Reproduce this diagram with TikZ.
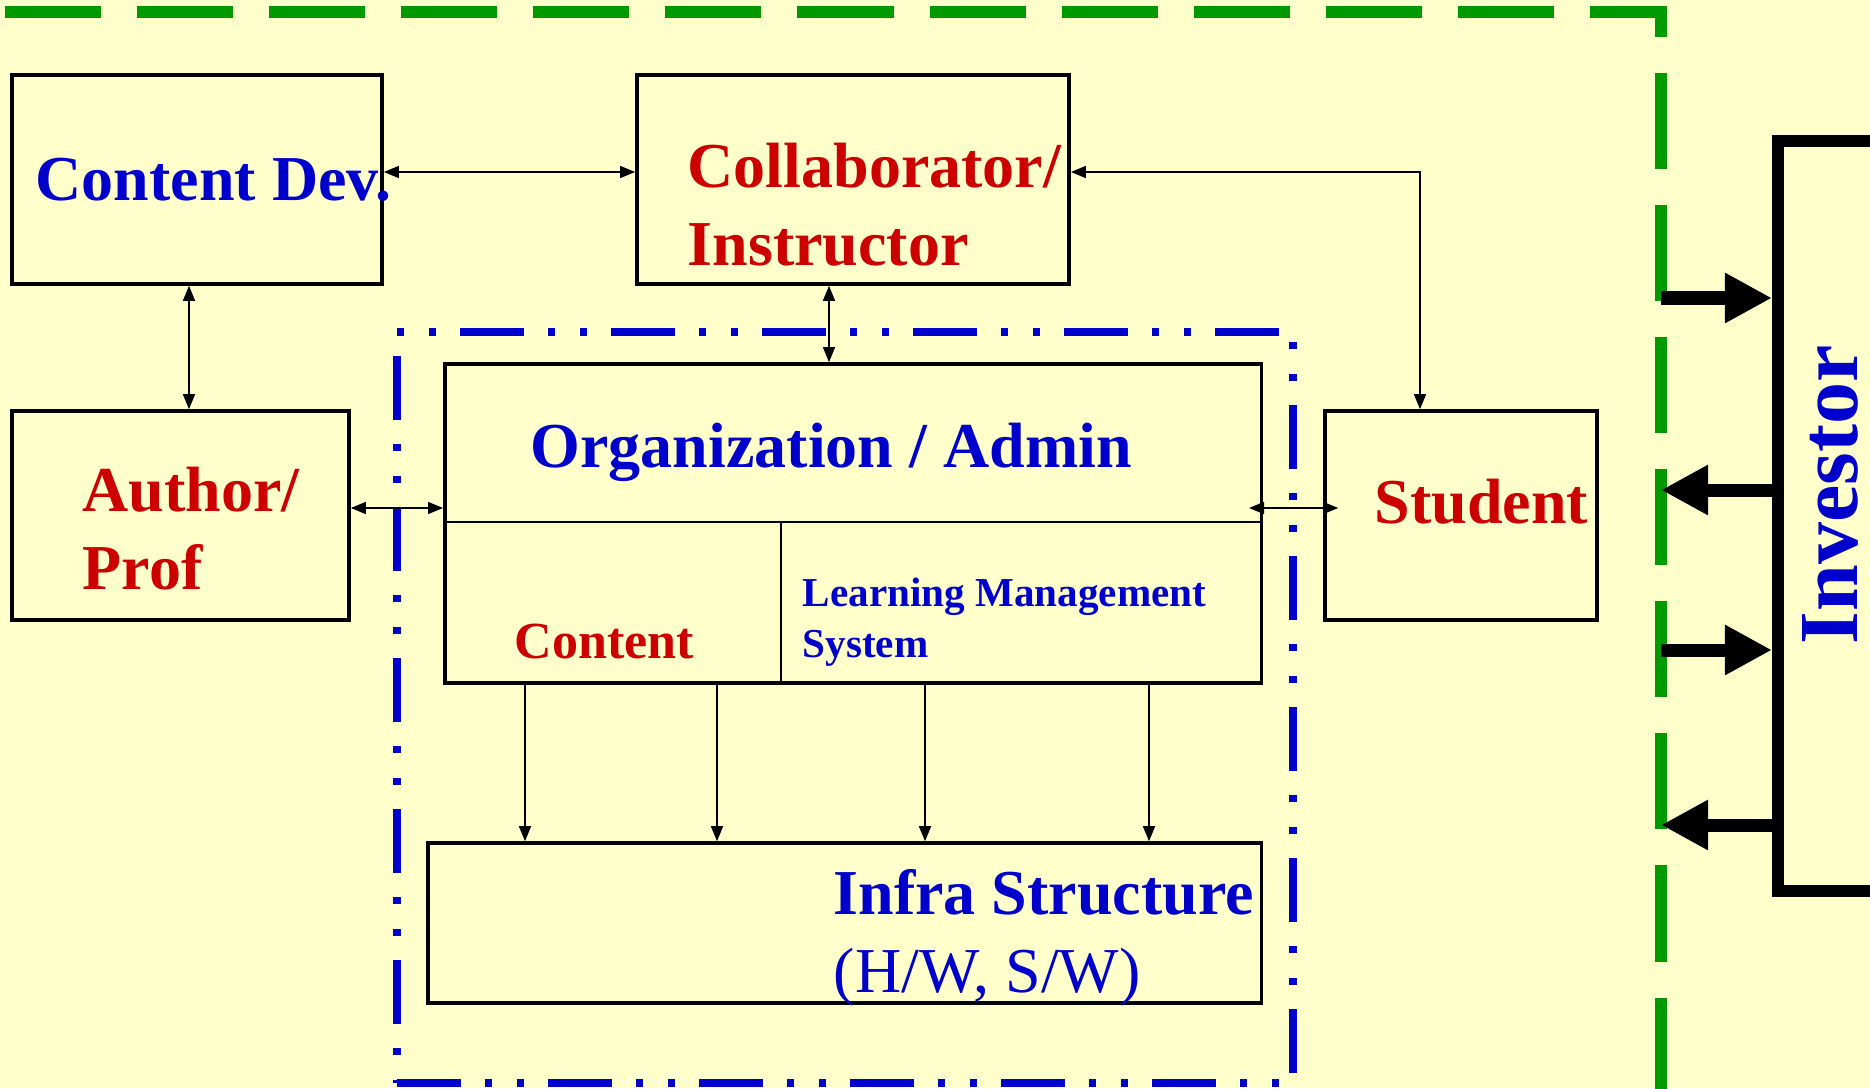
\documentclass[tikz,border=0pt]{standalone}
\usepackage{fontspec}
\setmainfont{Liberation Serif}
\usetikzlibrary{positioning,arrows.meta}
\definecolor{cPaper}{HTML}{FFFFCC}
\definecolor{cBlue}{HTML}{0000CC}
\definecolor{cRed}{HTML}{CC0000}
\definecolor{cGreen}{HTML}{009900}
\tikzset{
  blk/.style={draw, line width=0.35mm, inner sep=0pt},
  grp/.style={draw=cBlue, line width=0.8mm, inner sep=0pt,
              dash pattern=on 6.4mm off 2.4mm on 0.7mm off 2.5mm on 0.7mm off 2.4mm},
  bnd/.style={draw=cGreen, line width=1.2mm, dash pattern=on 9.6mm off 3.6mm},
  big/.style={font=\bfseries\fontsize{18.2}{21.9}\selectfont, inner sep=0pt,
              align=left, anchor=base west},
  lblue/.style={big, text=cBlue},
  lred/.style={big, text=cRed},
  ar/.style={<->, >={Triangle[length=1.5mm,width=1.2mm]}, line width=0.15mm},
  ars/.style={->, >={Triangle[length=1.5mm,width=1.2mm]}, line width=0.15mm},
  fat/.style={-{Triangle[length=4.7mm,width=4.7mm]}, line width=1.3mm},
}

\begin{document}
\begin{tikzpicture}[x=0.01cm, y=-0.01cm]
  \useasboundingbox (0,0) rectangle (1870,1088);
  \clip (0,0) rectangle (1870,1088);
  \fill[cPaper] (0,0) rectangle (1870,1088);
  \draw[bnd] (5,12) -- (1661,12) -- (1661,1100);

  % boxes
  \node[grp, minimum width=8.96cm, minimum height=7.51cm] (core) at (845,707.5) {};
  \node[blk, minimum width=3.7cm,  minimum height=2.09cm] (cdev) at (197,179.5) {};
  \node[blk, minimum width=4.32cm, minimum height=2.09cm] (collab) at (853,179.5) {};
  \node[blk, minimum width=3.37cm, minimum height=2.09cm] (author) at (180.5,515.5) {};
  \node[blk, minimum width=2.72cm, minimum height=2.09cm] (student) at (1461,515.5) {};
  \node[blk, minimum width=8.16cm, minimum height=3.19cm] (org) at (853,523.5) {};
  \node[blk, minimum width=8.33cm, minimum height=1.6cm]  (infra) at (844.5,923) {};
  \draw[line width=0.2mm] (org.west |- 0,522) -- (org.east |- 0,522);
  \draw[line width=0.2mm] (781,522) -- (781,0 |- org.south);

  % labels (base = last line)
  \node[lblue] (cdevT) at (35,200) {Content Dev.};
  \node[lred] (collabT) at (687,265) {Collaborator/\\Instructor};
  \node[lred] (authorT) at (82,589) {Author/\\Prof};
  \node[lblue] (orgT) at (530,467) {Organization / Admin};
  \node[lred, font=\bfseries\fontsize{14.8}{17.8}\selectfont] (contT) at (514,658) {Content};
  \node[lblue, font=\bfseries\fontsize{11.7}{14.5}\selectfont] (lmsT) at (802,657)
    {Learning Management\\System};
  \node[lblue, font=\fontsize{18.2}{21.9}\selectfont] (infraT) at (833,992)
    {\bfseries Infra Structure\\(H/W, S/W)};
  \node[lred] (studentT) at (1374,523) {Student};

  % links
  \draw[ar] (cdev.east |- 0,172) -- (collab.west |- 0,172);
  \draw[ar] (189,0 |- cdev.south) -- (189,0 |- author.north);
  \draw[ar] (829,0 |- collab.south) -- (829,0 |- org.north);
  \draw[ar] (1420,0 |- student.north) |- (collab.east |- 0,172);
  \draw[ar] (author.east |- 0,508) -- (org.west |- 0,508);
  \draw[ar, shorten <=-0.14cm, shorten >=-0.15cm] (org.east |- 0,508) -- (student.west |- 0,508);
  \foreach \x in {525,717,925,1149}
    \draw[ars] (\x,0 |- org.south) -- (\x,0 |- infra.north);

  % investor
  \node[draw, line width=1.2mm, inner sep=0pt, minimum width=1.02cm,
        minimum height=7.5cm] (inv) at (1829,516) {};
  \node[lblue, font=\bfseries\fontsize{23.9}{28}\selectfont, rotate=90,
        anchor=center] (invT) at (1830,495) {Investor};
  \foreach \n/\y in {1/298,2/490,3/650,4/825}
    \coordinate (g\n) at (1661,\y);
  \draw[fat] (g1) -- (g1 -| inv.west);
  \draw[fat] (g2 -| inv.west) -- (g2);
  \draw[fat] (g3) -- (g3 -| inv.west);
  \draw[fat] (g4 -| inv.west) -- (g4);
\end{tikzpicture}
\end{document}
